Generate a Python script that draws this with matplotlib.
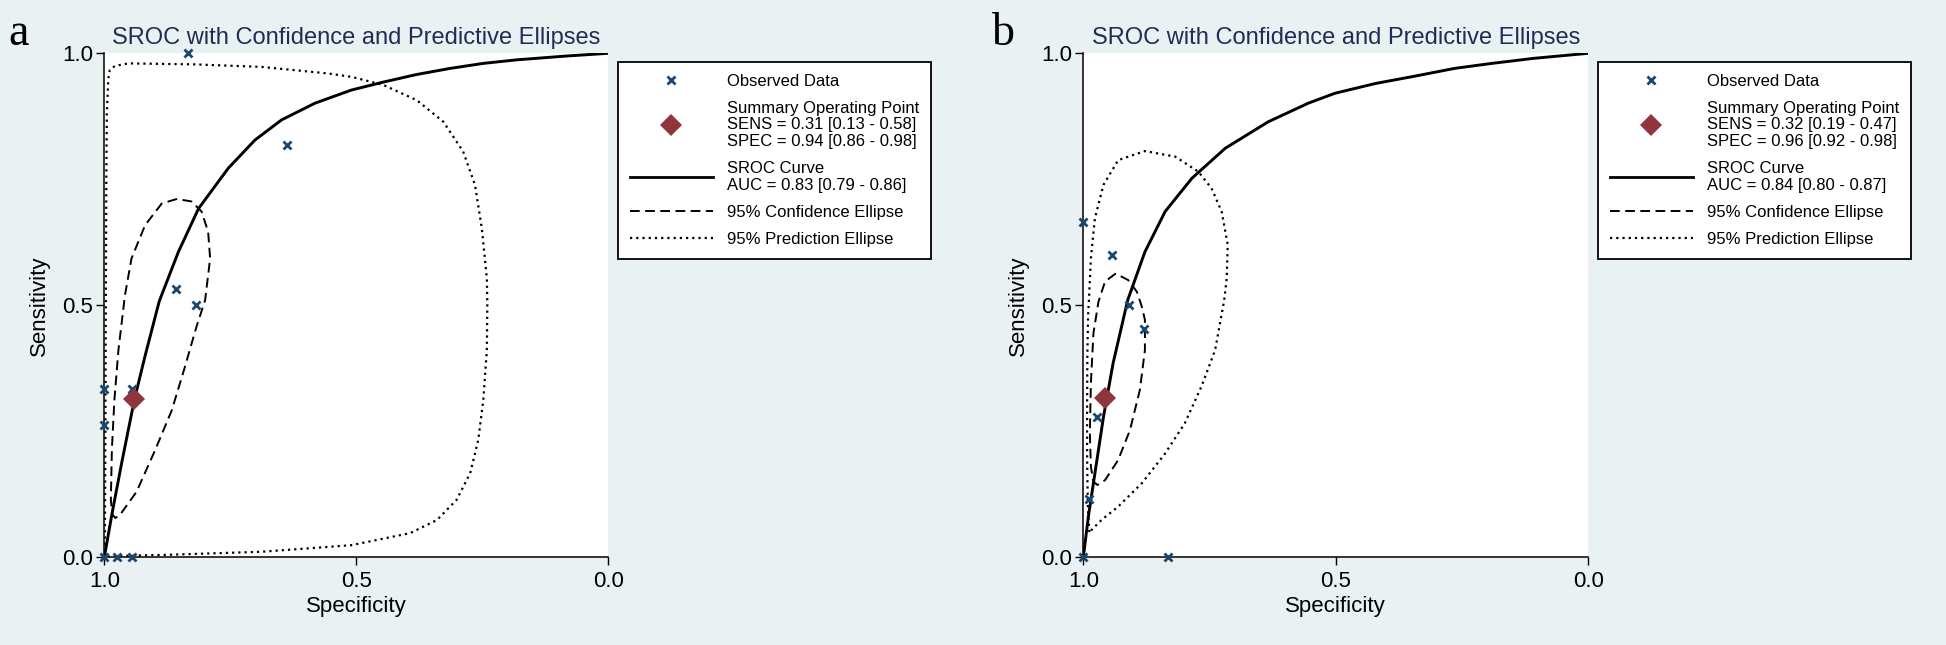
import matplotlib
matplotlib.use('Agg')
import matplotlib.pyplot as plt
from matplotlib.lines import Line2D

plt.rcParams['font.family'] = ['Liberation Sans', 'DejaVu Sans']

# ---- panel a (specificity, sensitivity)
a_obs_spec = [0.833, 0.638, 0.858, 0.818, 1.0, 0.946, 1.0, 1.0, 0.975, 0.946]
a_obs_sens = [1.0, 0.818, 0.532, 0.5, 0.333, 0.333, 0.2625, 0.0, 0.0, 0.0]
a_sum_spec, a_sum_sens = 0.941, 0.314

a_sroc_spec = [1.0, 0.985, 0.965, 0.94, 0.919, 0.891, 0.853, 0.813, 0.754, 0.701,
               0.648, 0.582, 0.51, 0.446, 0.38, 0.314, 0.248, 0.182, 0.083, 0.0]
a_sroc_sens = [0.0, 0.085, 0.19, 0.314, 0.40, 0.508, 0.606, 0.692, 0.772, 0.828,
               0.868, 0.901, 0.927, 0.943, 0.958, 0.970, 0.980, 0.987, 0.9946, 1.0]

a_conf_spec = [0.856, 0.886, 0.919, 0.946, 0.959, 0.972, 0.980, 0.985, 0.987, 0.984,
               0.978, 0.969, 0.936, 0.899, 0.866, 0.840, 0.817, 0.800, 0.790, 0.794,
               0.807, 0.827, 0.856]
a_conf_sens = [0.711, 0.702, 0.659, 0.593, 0.520, 0.411, 0.312, 0.213, 0.114, 0.085,
               0.078, 0.084, 0.130, 0.213, 0.292, 0.378, 0.458, 0.51, 0.593, 0.646,
               0.686, 0.706, 0.711]

a_pred_spec = [0.999, 0.998, 0.997, 0.996, 0.995, 0.992, 0.989, 0.979, 0.952, 0.82,
               0.688, 0.556, 0.508, 0.446, 0.380, 0.327, 0.288, 0.2645, 0.251, 0.241,
               0.240, 0.241, 0.248, 0.258, 0.274, 0.301, 0.34, 0.393, 0.51, 0.688,
               0.886, 0.985, 0.999]
a_pred_sens = [0.0, 0.2, 0.5, 0.75, 0.88, 0.95, 0.967, 0.975, 0.980, 0.978,
               0.973, 0.960, 0.953, 0.937, 0.907, 0.864, 0.805, 0.739, 0.653, 0.554,
               0.505, 0.411, 0.312, 0.233, 0.167, 0.114, 0.074, 0.048, 0.024, 0.011,
               0.0046, 0.0026, 0.0]

a_labels = ['Observed Data',
            'Summary Operating Point\nSENS = 0.31 [0.13 - 0.58]\nSPEC = 0.94 [0.86 - 0.98]',
            'SROC Curve\nAUC = 0.83 [0.79 - 0.86]',
            '95% Confidence Ellipse',
            '95% Prediction Ellipse']

# ---- panel b
b_obs_spec = [1.0, 0.943, 0.909, 0.880, 0.973, 0.989, 1.0, 0.833]
b_obs_sens = [0.666, 0.600, 0.5, 0.4536, 0.278, 0.116, 0.0, 0.0]
b_sum_spec, b_sum_sens = 0.957, 0.316

b_sroc_spec = [1.0, 0.990, 0.977, 0.960, 0.941, 0.912, 0.878, 0.838, 0.785, 0.719,
               0.634, 0.5545, 0.502, 0.422, 0.347, 0.265, 0.191, 0.108, 0.0]
b_sroc_sens = [0.0, 0.0806, 0.1667, 0.279, 0.385, 0.5105, 0.606, 0.686, 0.752, 0.8115,
               0.864, 0.901, 0.9206, 0.940, 0.954, 0.970, 0.980, 0.990, 1.0]

b_conf_spec = [0.936, 0.957, 0.970, 0.980, 0.985, 0.987, 0.985, 0.980, 0.972, 0.957,
               0.931, 0.9075, 0.888, 0.878, 0.878, 0.884, 0.894, 0.911, 0.936]
b_conf_sens = [0.563, 0.547, 0.507, 0.444, 0.345, 0.246, 0.180, 0.150, 0.1435, 0.153,
               0.193, 0.2526, 0.332, 0.411, 0.471, 0.497, 0.527, 0.550, 0.563]

b_pred_spec = [0.988, 0.991, 0.9925, 0.9925, 0.992, 0.9905, 0.9887, 0.985, 0.977, 0.960,
               0.931, 0.878, 0.818, 0.772, 0.746, 0.726, 0.714, 0.716, 0.721, 0.739,
               0.766, 0.799, 0.838, 0.884, 0.931, 0.964, 0.988]
b_pred_sens = [0.05, 0.10, 0.2, 0.3, 0.4, 0.48, 0.514, 0.593, 0.673, 0.739,
               0.788, 0.806, 0.795, 0.765, 0.732, 0.686, 0.620, 0.554, 0.51, 0.411,
               0.339, 0.266, 0.206, 0.147, 0.1005, 0.074, 0.05]

b_labels = ['Observed Data',
            'Summary Operating Point\nSENS = 0.32 [0.19 - 0.47]\nSPEC = 0.96 [0.92 - 0.98]',
            'SROC Curve\nAUC = 0.84 [0.80 - 0.87]',
            '95% Confidence Ellipse',
            '95% Prediction Ellipse']

ticks = [0.0, 0.5, 1.0]
tick_labels = ['0.0', '0.5', '1.0']

bg = '#e9f1f3'
navy = '#1a476f'
maroon = '#90353b'
title_col = '#1f2d55'
dash = (0, (5, 2.8))
dot = (0, (1, 1.8))

fig = plt.figure(figsize=(19.46, 6.45), dpi=100, facecolor=bg)
W, H = 1946, 645


def panel(left_px, width_px, letter, letter_x, obs_s, obs_n, sum_s, sum_n,
          sroc_s, sroc_n, conf_s, conf_n, pred_s, pred_n, labels, leg_x):
    ax = fig.add_axes([left_px / W, 1 - 557.3 / H, width_px / W, 504 / H])
    ax.set_facecolor('white')
    ax.plot(pred_s, pred_n, color='black', lw=1.6, ls=dot)
    ax.plot(conf_s, conf_n, color='black', lw=1.4, ls=dash)
    ax.plot(sroc_s, sroc_n, color='black', lw=2.1, solid_joinstyle='round')
    ax.plot(obs_s, obs_n, 'x', color=navy, ms=5.5, mew=2.0, clip_on=False, zorder=5)
    ax.plot([sum_s], [sum_n], 'D', color=maroon, ms=11, mew=0, clip_on=False, zorder=6)
    ax.set_xlim(1, 0)
    ax.set_ylim(0, 1)
    ax.set_xticks(ticks)
    ax.set_xticklabels(tick_labels)
    ax.set_yticks(ticks)
    ax.set_yticklabels(tick_labels)
    ax.tick_params(direction='out', length=6, width=1.0, labelsize=16, pad=4)
    ax.tick_params(axis='y', pad=2)
    for s in ['top', 'right']:
        ax.spines[s].set_visible(False)
    for s in ['left', 'bottom']:
        ax.spines[s].set_linewidth(1.1)
    ax.set_xlabel('Specificity', fontsize=16, labelpad=3)
    ax.set_ylabel('Sensitivity', fontsize=16, labelpad=9)
    ax.set_title('SROC with Confidence and Predictive Ellipses', fontsize=17,
                 color=title_col, pad=7)
    fig.text(letter_x / W, 1 - 45 / H, letter, family='Liberation Serif',
             fontsize=33, va='baseline', ha='left')

    handles = [
        Line2D([], [], ls='none', marker='x', color=navy, ms=5.5, mew=2.0),
        Line2D([], [], ls='none', marker='D', color=maroon, ms=11, mew=0),
        Line2D([], [], color='black', lw=2.0),
        Line2D([], [], color='black', lw=1.4, ls=dash),
        Line2D([], [], color='black', lw=1.6, ls=dot),
    ]
    leg = fig.legend(handles, labels, loc='upper left',
                     bbox_to_anchor=(leg_x / W, 1 - 62 / H), borderaxespad=0,
                     fontsize=12, frameon=True, fancybox=False, framealpha=1,
                     edgecolor='black', handlelength=5.0, handletextpad=0.85,
                     borderpad=0.7, labelspacing=0.72)
    leg.get_frame().set_linewidth(1.3)
    for t in leg.get_texts():
        t.set_linespacing(1.15)
    return ax


panel(104.3, 504, 'a', 8, a_obs_spec, a_obs_sens, a_sum_spec, a_sum_sens,
      a_sroc_spec, a_sroc_sens, a_conf_spec, a_conf_sens,
      a_pred_spec, a_pred_sens, a_labels, 618)
panel(1083.3, 505, 'b', 992, b_obs_spec, b_obs_sens, b_sum_spec, b_sum_sens,
      b_sroc_spec, b_sroc_sens, b_conf_spec, b_conf_sens,
      b_pred_spec, b_pred_sens, b_labels, 1598)

fig.savefig('out.png', dpi=100, facecolor=bg)
